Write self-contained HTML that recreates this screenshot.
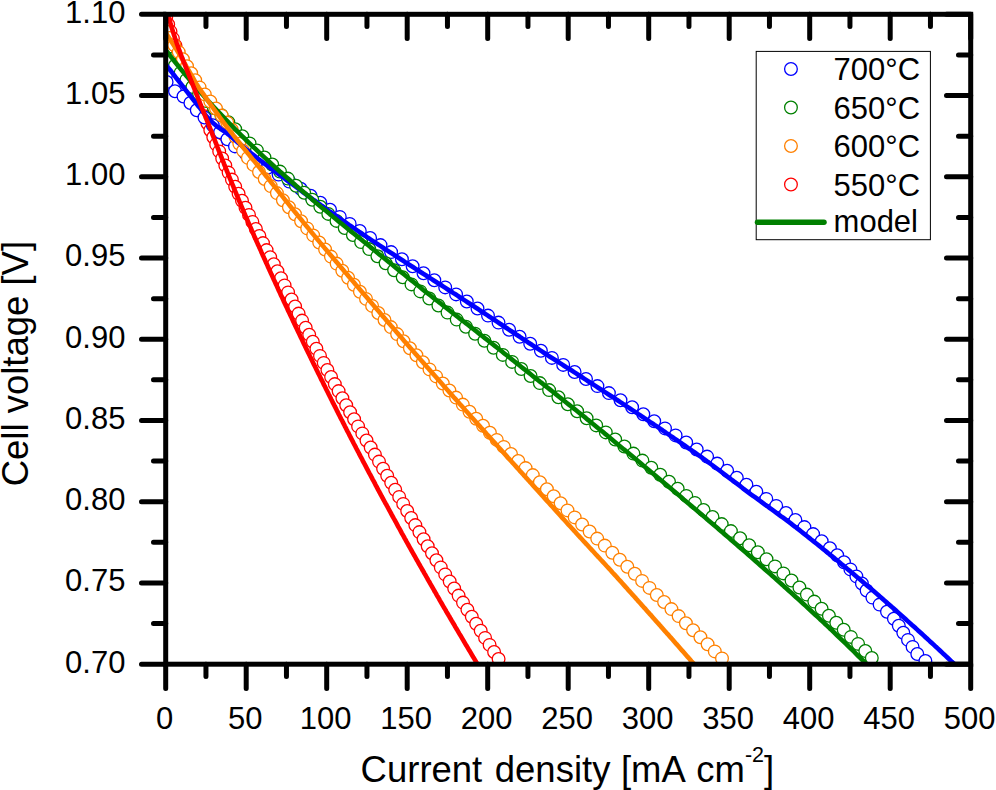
<!DOCTYPE html>
<html lang="en"><head><meta charset="utf-8"><title>Cell voltage vs current density</title>
<style>html,body{margin:0;padding:0;background:#fff}svg{display:block}text{font-family:"Liberation Sans",sans-serif}</style></head>
<body>
<svg width="996" height="790" viewBox="0 0 996 790" font-family="'Liberation Sans', sans-serif">
<rect width="996" height="790" fill="#fff"/>
<defs><clipPath id="pc"><rect x="165.7" y="14.3" width="805.0" height="649.9000000000001"/></clipPath></defs>
<g clip-path="url(#pc)">
<g fill="#fff" stroke="#ff0000" stroke-width="1.3"><circle cx="166.2" cy="17.5" r="6.35"/><circle cx="168.2" cy="24.5" r="6.35"/><circle cx="170.5" cy="31.6" r="6.35"/><circle cx="172.9" cy="38.6" r="6.35"/><circle cx="175.5" cy="45.7" r="6.35"/><circle cx="178.3" cy="52.7" r="6.35"/><circle cx="181.1" cy="59.8" r="6.35"/><circle cx="184.0" cy="66.8" r="6.35"/><circle cx="186.9" cy="73.9" r="6.35"/><circle cx="189.9" cy="80.9" r="6.35"/><circle cx="192.8" cy="88.0" r="6.35"/><circle cx="195.7" cy="95.0" r="6.35"/><circle cx="198.6" cy="102.1" r="6.35"/><circle cx="201.6" cy="109.1" r="6.35"/><circle cx="204.5" cy="116.2" r="6.35"/><circle cx="207.4" cy="123.2" r="6.35"/><circle cx="210.3" cy="130.3" r="6.35"/><circle cx="213.3" cy="137.3" r="6.35"/><circle cx="216.2" cy="144.4" r="6.35"/><circle cx="219.2" cy="151.4" r="6.35"/><circle cx="222.2" cy="158.5" r="6.35"/><circle cx="225.3" cy="165.5" r="6.35"/><circle cx="228.6" cy="172.6" r="6.35"/><circle cx="231.9" cy="179.6" r="6.35"/><circle cx="235.2" cy="186.7" r="6.35"/><circle cx="238.6" cy="193.7" r="6.35"/><circle cx="242.0" cy="200.8" r="6.35"/><circle cx="245.5" cy="207.8" r="6.35"/><circle cx="249.0" cy="214.9" r="6.35"/><circle cx="252.4" cy="221.9" r="6.35"/><circle cx="255.9" cy="229.0" r="6.35"/><circle cx="259.4" cy="236.0" r="6.35"/><circle cx="263.0" cy="243.1" r="6.35"/><circle cx="266.6" cy="250.1" r="6.35"/><circle cx="270.2" cy="257.2" r="6.35"/><circle cx="273.8" cy="264.2" r="6.35"/><circle cx="277.4" cy="271.3" r="6.35"/><circle cx="281.0" cy="278.3" r="6.35"/><circle cx="284.6" cy="285.4" r="6.35"/><circle cx="288.1" cy="292.4" r="6.35"/><circle cx="291.6" cy="299.5" r="6.35"/><circle cx="295.1" cy="306.5" r="6.35"/><circle cx="298.6" cy="313.6" r="6.35"/><circle cx="302.1" cy="320.6" r="6.35"/><circle cx="305.7" cy="327.7" r="6.35"/><circle cx="309.2" cy="334.7" r="6.35"/><circle cx="312.8" cy="341.8" r="6.35"/><circle cx="316.4" cy="348.8" r="6.35"/><circle cx="320.0" cy="355.9" r="6.35"/><circle cx="323.7" cy="362.9" r="6.35"/><circle cx="327.4" cy="370.0" r="6.35"/><circle cx="331.1" cy="377.0" r="6.35"/><circle cx="334.8" cy="384.1" r="6.35"/><circle cx="338.6" cy="391.1" r="6.35"/><circle cx="342.4" cy="398.2" r="6.35"/><circle cx="346.2" cy="405.2" r="6.35"/><circle cx="350.1" cy="412.3" r="6.35"/><circle cx="354.1" cy="419.3" r="6.35"/><circle cx="358.1" cy="426.4" r="6.35"/><circle cx="362.3" cy="433.4" r="6.35"/><circle cx="366.5" cy="440.5" r="6.35"/><circle cx="370.7" cy="447.5" r="6.35"/><circle cx="374.9" cy="454.6" r="6.35"/><circle cx="379.0" cy="461.6" r="6.35"/><circle cx="383.1" cy="468.7" r="6.35"/><circle cx="387.2" cy="475.7" r="6.35"/><circle cx="391.2" cy="482.8" r="6.35"/><circle cx="395.2" cy="489.8" r="6.35"/><circle cx="399.2" cy="496.9" r="6.35"/><circle cx="403.2" cy="503.9" r="6.35"/><circle cx="407.2" cy="511.0" r="6.35"/><circle cx="411.2" cy="518.0" r="6.35"/><circle cx="415.3" cy="525.1" r="6.35"/><circle cx="419.4" cy="532.1" r="6.35"/><circle cx="423.6" cy="539.2" r="6.35"/><circle cx="427.7" cy="546.2" r="6.35"/><circle cx="432.0" cy="553.3" r="6.35"/><circle cx="436.4" cy="560.3" r="6.35"/><circle cx="440.8" cy="567.4" r="6.35"/><circle cx="445.2" cy="574.4" r="6.35"/><circle cx="449.7" cy="581.5" r="6.35"/><circle cx="454.2" cy="588.5" r="6.35"/><circle cx="458.6" cy="595.6" r="6.35"/><circle cx="463.0" cy="602.6" r="6.35"/><circle cx="467.4" cy="609.7" r="6.35"/><circle cx="471.8" cy="616.7" r="6.35"/><circle cx="476.2" cy="623.8" r="6.35"/><circle cx="480.7" cy="630.8" r="6.35"/><circle cx="485.1" cy="637.9" r="6.35"/><circle cx="489.6" cy="644.9" r="6.35"/><circle cx="494.1" cy="652.0" r="6.35"/><circle cx="498.6" cy="659.0" r="6.35"/></g>
<g fill="#fff" stroke="#0000ff" stroke-width="1.3"><circle cx="166.0" cy="75.0" r="6.35"/><circle cx="166.6" cy="82.0" r="6.35"/><circle cx="175.0" cy="91.2" r="6.35"/><circle cx="183.5" cy="96.5" r="6.35"/><circle cx="190.4" cy="103.0" r="6.35"/><circle cx="196.8" cy="110.3" r="6.35"/><circle cx="204.5" cy="117.5" r="6.35"/><circle cx="212.8" cy="125.2" r="6.35"/><circle cx="220.1" cy="132.3" r="6.35"/><circle cx="227.4" cy="139.3" r="6.35"/><circle cx="235.0" cy="146.4" r="6.35"/><circle cx="245.5" cy="153.4" r="6.35"/><circle cx="257.2" cy="160.5" r="6.35"/><circle cx="268.0" cy="167.5" r="6.35"/><circle cx="278.6" cy="174.6" r="6.35"/><circle cx="289.3" cy="181.6" r="6.35"/><circle cx="300.7" cy="188.7" r="6.35"/><circle cx="310.6" cy="195.7" r="6.35"/><circle cx="320.3" cy="202.8" r="6.35"/><circle cx="330.0" cy="209.8" r="6.35"/><circle cx="339.8" cy="216.9" r="6.35"/><circle cx="349.7" cy="223.9" r="6.35"/><circle cx="359.8" cy="231.0" r="6.35"/><circle cx="370.1" cy="238.0" r="6.35"/><circle cx="380.5" cy="245.1" r="6.35"/><circle cx="391.1" cy="252.1" r="6.35"/><circle cx="401.9" cy="259.2" r="6.35"/><circle cx="412.6" cy="266.2" r="6.35"/><circle cx="423.5" cy="273.3" r="6.35"/><circle cx="434.3" cy="280.3" r="6.35"/><circle cx="445.2" cy="287.4" r="6.35"/><circle cx="456.1" cy="294.4" r="6.35"/><circle cx="466.8" cy="301.5" r="6.35"/><circle cx="477.5" cy="308.5" r="6.35"/><circle cx="488.0" cy="315.6" r="6.35"/><circle cx="498.5" cy="322.6" r="6.35"/><circle cx="509.1" cy="329.7" r="6.35"/><circle cx="519.6" cy="336.7" r="6.35"/><circle cx="530.2" cy="343.8" r="6.35"/><circle cx="540.9" cy="350.8" r="6.35"/><circle cx="551.9" cy="357.9" r="6.35"/><circle cx="563.2" cy="364.9" r="6.35"/><circle cx="574.6" cy="372.0" r="6.35"/><circle cx="586.0" cy="379.0" r="6.35"/><circle cx="597.4" cy="386.1" r="6.35"/><circle cx="608.9" cy="393.1" r="6.35"/><circle cx="620.5" cy="400.2" r="6.35"/><circle cx="632.1" cy="407.2" r="6.35"/><circle cx="643.3" cy="414.3" r="6.35"/><circle cx="654.2" cy="421.3" r="6.35"/><circle cx="665.0" cy="428.4" r="6.35"/><circle cx="675.6" cy="435.4" r="6.35"/><circle cx="686.2" cy="442.5" r="6.35"/><circle cx="696.7" cy="449.5" r="6.35"/><circle cx="707.1" cy="456.6" r="6.35"/><circle cx="717.2" cy="463.6" r="6.35"/><circle cx="727.1" cy="470.7" r="6.35"/><circle cx="736.8" cy="477.7" r="6.35"/><circle cx="746.4" cy="484.8" r="6.35"/><circle cx="756.3" cy="491.8" r="6.35"/><circle cx="766.3" cy="498.9" r="6.35"/><circle cx="776.2" cy="505.9" r="6.35"/><circle cx="786.0" cy="513.0" r="6.35"/><circle cx="795.4" cy="520.0" r="6.35"/><circle cx="804.4" cy="527.1" r="6.35"/><circle cx="813.1" cy="534.1" r="6.35"/><circle cx="821.7" cy="541.2" r="6.35"/><circle cx="829.9" cy="548.2" r="6.35"/><circle cx="837.2" cy="555.3" r="6.35"/><circle cx="844.0" cy="562.3" r="6.35"/><circle cx="850.4" cy="569.4" r="6.35"/><circle cx="856.4" cy="576.4" r="6.35"/><circle cx="861.9" cy="583.5" r="6.35"/><circle cx="866.6" cy="590.5" r="6.35"/><circle cx="872.4" cy="597.6" r="6.35"/><circle cx="879.6" cy="604.6" r="6.35"/><circle cx="887.0" cy="611.7" r="6.35"/><circle cx="893.9" cy="618.7" r="6.35"/><circle cx="898.8" cy="625.8" r="6.35"/><circle cx="903.3" cy="632.8" r="6.35"/><circle cx="908.0" cy="639.9" r="6.35"/><circle cx="912.6" cy="646.9" r="6.35"/><circle cx="917.3" cy="654.0" r="6.35"/><circle cx="925.4" cy="661.0" r="6.35"/></g>
<g fill="#fff" stroke="#008000" stroke-width="1.3"><circle cx="169.3" cy="58.8" r="6.35"/><circle cx="174.9" cy="65.8" r="6.35"/><circle cx="180.6" cy="72.9" r="6.35"/><circle cx="186.4" cy="79.9" r="6.35"/><circle cx="192.4" cy="87.0" r="6.35"/><circle cx="199.1" cy="94.0" r="6.35"/><circle cx="206.4" cy="101.1" r="6.35"/><circle cx="214.0" cy="108.1" r="6.35"/><circle cx="221.4" cy="115.2" r="6.35"/><circle cx="228.3" cy="122.2" r="6.35"/><circle cx="235.2" cy="129.3" r="6.35"/><circle cx="242.3" cy="136.3" r="6.35"/><circle cx="249.6" cy="143.4" r="6.35"/><circle cx="256.9" cy="150.4" r="6.35"/><circle cx="264.5" cy="157.5" r="6.35"/><circle cx="272.2" cy="164.5" r="6.35"/><circle cx="280.0" cy="171.6" r="6.35"/><circle cx="287.9" cy="178.6" r="6.35"/><circle cx="296.0" cy="185.7" r="6.35"/><circle cx="304.2" cy="192.7" r="6.35"/><circle cx="312.3" cy="199.8" r="6.35"/><circle cx="320.3" cy="206.8" r="6.35"/><circle cx="328.3" cy="213.9" r="6.35"/><circle cx="336.5" cy="220.9" r="6.35"/><circle cx="344.7" cy="228.0" r="6.35"/><circle cx="352.9" cy="235.0" r="6.35"/><circle cx="361.1" cy="242.1" r="6.35"/><circle cx="369.2" cy="249.1" r="6.35"/><circle cx="377.4" cy="256.2" r="6.35"/><circle cx="385.6" cy="263.2" r="6.35"/><circle cx="394.1" cy="270.3" r="6.35"/><circle cx="402.7" cy="277.3" r="6.35"/><circle cx="411.5" cy="284.4" r="6.35"/><circle cx="420.3" cy="291.4" r="6.35"/><circle cx="429.3" cy="298.5" r="6.35"/><circle cx="438.4" cy="305.5" r="6.35"/><circle cx="447.5" cy="312.6" r="6.35"/><circle cx="456.7" cy="319.6" r="6.35"/><circle cx="465.9" cy="326.7" r="6.35"/><circle cx="475.1" cy="333.7" r="6.35"/><circle cx="484.4" cy="340.8" r="6.35"/><circle cx="493.6" cy="347.8" r="6.35"/><circle cx="502.8" cy="354.9" r="6.35"/><circle cx="512.1" cy="361.9" r="6.35"/><circle cx="521.3" cy="369.0" r="6.35"/><circle cx="530.6" cy="376.0" r="6.35"/><circle cx="539.8" cy="383.1" r="6.35"/><circle cx="549.1" cy="390.1" r="6.35"/><circle cx="558.4" cy="397.2" r="6.35"/><circle cx="567.8" cy="404.2" r="6.35"/><circle cx="577.1" cy="411.3" r="6.35"/><circle cx="586.6" cy="418.3" r="6.35"/><circle cx="596.2" cy="425.4" r="6.35"/><circle cx="605.8" cy="432.4" r="6.35"/><circle cx="615.2" cy="439.5" r="6.35"/><circle cx="624.4" cy="446.5" r="6.35"/><circle cx="633.4" cy="453.6" r="6.35"/><circle cx="642.4" cy="460.6" r="6.35"/><circle cx="651.3" cy="467.7" r="6.35"/><circle cx="660.2" cy="474.7" r="6.35"/><circle cx="669.0" cy="481.8" r="6.35"/><circle cx="677.7" cy="488.8" r="6.35"/><circle cx="686.3" cy="495.9" r="6.35"/><circle cx="694.9" cy="502.9" r="6.35"/><circle cx="703.5" cy="510.0" r="6.35"/><circle cx="712.5" cy="517.0" r="6.35"/><circle cx="721.7" cy="524.1" r="6.35"/><circle cx="730.9" cy="531.1" r="6.35"/><circle cx="740.1" cy="538.2" r="6.35"/><circle cx="749.1" cy="545.2" r="6.35"/><circle cx="757.8" cy="552.3" r="6.35"/><circle cx="766.5" cy="559.3" r="6.35"/><circle cx="775.0" cy="566.4" r="6.35"/><circle cx="783.4" cy="573.4" r="6.35"/><circle cx="791.5" cy="580.5" r="6.35"/><circle cx="799.4" cy="587.5" r="6.35"/><circle cx="806.9" cy="594.6" r="6.35"/><circle cx="814.3" cy="601.6" r="6.35"/><circle cx="821.6" cy="608.7" r="6.35"/><circle cx="828.9" cy="615.7" r="6.35"/><circle cx="836.3" cy="622.8" r="6.35"/><circle cx="843.7" cy="629.8" r="6.35"/><circle cx="850.9" cy="636.9" r="6.35"/><circle cx="858.1" cy="643.9" r="6.35"/><circle cx="865.3" cy="651.0" r="6.35"/><circle cx="871.8" cy="658.0" r="6.35"/></g>
<g fill="#fff" stroke="#ff8000" stroke-width="1.3"><circle cx="165.1" cy="31.0" r="6.35"/><circle cx="169.6" cy="38.0" r="6.35"/><circle cx="174.2" cy="45.1" r="6.35"/><circle cx="178.7" cy="52.1" r="6.35"/><circle cx="182.9" cy="59.2" r="6.35"/><circle cx="187.0" cy="66.2" r="6.35"/><circle cx="191.2" cy="73.3" r="6.35"/><circle cx="195.2" cy="80.3" r="6.35"/><circle cx="199.6" cy="87.4" r="6.35"/><circle cx="204.8" cy="94.4" r="6.35"/><circle cx="210.3" cy="101.5" r="6.35"/><circle cx="216.0" cy="108.5" r="6.35"/><circle cx="221.7" cy="115.6" r="6.35"/><circle cx="227.2" cy="122.6" r="6.35"/><circle cx="231.8" cy="129.7" r="6.35"/><circle cx="235.4" cy="136.7" r="6.35"/><circle cx="239.3" cy="143.8" r="6.35"/><circle cx="243.1" cy="150.8" r="6.35"/><circle cx="247.9" cy="157.9" r="6.35"/><circle cx="253.4" cy="164.9" r="6.35"/><circle cx="259.0" cy="172.0" r="6.35"/><circle cx="264.7" cy="179.0" r="6.35"/><circle cx="270.7" cy="186.1" r="6.35"/><circle cx="276.9" cy="193.1" r="6.35"/><circle cx="282.9" cy="200.2" r="6.35"/><circle cx="288.9" cy="207.2" r="6.35"/><circle cx="295.0" cy="214.3" r="6.35"/><circle cx="301.1" cy="221.3" r="6.35"/><circle cx="307.2" cy="228.4" r="6.35"/><circle cx="313.2" cy="235.4" r="6.35"/><circle cx="319.2" cy="242.5" r="6.35"/><circle cx="325.1" cy="249.5" r="6.35"/><circle cx="330.9" cy="256.6" r="6.35"/><circle cx="336.6" cy="263.6" r="6.35"/><circle cx="342.3" cy="270.7" r="6.35"/><circle cx="348.1" cy="277.7" r="6.35"/><circle cx="353.9" cy="284.8" r="6.35"/><circle cx="359.9" cy="291.8" r="6.35"/><circle cx="366.0" cy="298.9" r="6.35"/><circle cx="372.1" cy="305.9" r="6.35"/><circle cx="378.3" cy="313.0" r="6.35"/><circle cx="384.5" cy="320.0" r="6.35"/><circle cx="390.8" cy="327.1" r="6.35"/><circle cx="397.1" cy="334.1" r="6.35"/><circle cx="403.5" cy="341.2" r="6.35"/><circle cx="409.9" cy="348.2" r="6.35"/><circle cx="416.4" cy="355.3" r="6.35"/><circle cx="422.9" cy="362.3" r="6.35"/><circle cx="429.5" cy="369.4" r="6.35"/><circle cx="436.1" cy="376.4" r="6.35"/><circle cx="442.8" cy="383.5" r="6.35"/><circle cx="449.4" cy="390.5" r="6.35"/><circle cx="456.1" cy="397.6" r="6.35"/><circle cx="462.8" cy="404.6" r="6.35"/><circle cx="469.5" cy="411.7" r="6.35"/><circle cx="476.2" cy="418.7" r="6.35"/><circle cx="483.0" cy="425.8" r="6.35"/><circle cx="489.9" cy="432.8" r="6.35"/><circle cx="496.8" cy="439.9" r="6.35"/><circle cx="503.8" cy="446.9" r="6.35"/><circle cx="511.0" cy="454.0" r="6.35"/><circle cx="518.3" cy="461.0" r="6.35"/><circle cx="525.6" cy="468.1" r="6.35"/><circle cx="532.8" cy="475.1" r="6.35"/><circle cx="539.9" cy="482.2" r="6.35"/><circle cx="546.9" cy="489.2" r="6.35"/><circle cx="553.7" cy="496.3" r="6.35"/><circle cx="560.6" cy="503.3" r="6.35"/><circle cx="567.5" cy="510.4" r="6.35"/><circle cx="574.7" cy="517.4" r="6.35"/><circle cx="582.1" cy="524.5" r="6.35"/><circle cx="589.6" cy="531.5" r="6.35"/><circle cx="597.2" cy="538.6" r="6.35"/><circle cx="604.8" cy="545.6" r="6.35"/><circle cx="612.3" cy="552.7" r="6.35"/><circle cx="619.8" cy="559.7" r="6.35"/><circle cx="627.3" cy="566.8" r="6.35"/><circle cx="634.8" cy="573.8" r="6.35"/><circle cx="642.1" cy="580.9" r="6.35"/><circle cx="649.5" cy="587.9" r="6.35"/><circle cx="656.8" cy="595.0" r="6.35"/><circle cx="664.1" cy="602.0" r="6.35"/><circle cx="671.4" cy="609.1" r="6.35"/><circle cx="678.6" cy="616.1" r="6.35"/><circle cx="685.9" cy="623.2" r="6.35"/><circle cx="693.1" cy="630.2" r="6.35"/><circle cx="700.4" cy="637.3" r="6.35"/><circle cx="707.6" cy="644.3" r="6.35"/><circle cx="714.8" cy="651.4" r="6.35"/><circle cx="722.0" cy="658.4" r="6.35"/></g>
<path d="M160.0,57.3 L162.0,59.8 L164.0,62.4 L166.0,64.9 L168.0,67.5 L170.1,70.0 L172.1,72.6 L174.1,75.2 L176.1,77.8 L178.1,80.3 L180.1,82.9 L182.1,85.5 L184.1,88.0 L186.1,90.6 L188.1,93.2 L190.2,95.7 L192.2,98.3 L194.2,100.9 L196.2,103.4 L198.2,106.0 L200.2,108.4 L202.2,111.0 L204.2,113.5 L206.2,115.9 L208.2,118.2 L210.3,120.3 L212.3,122.3 L214.3,124.1 L216.3,125.8 L218.3,127.3 L220.3,128.7 L222.3,130.0 L224.3,131.3 L226.3,132.8 L228.3,134.4 L230.4,136.0 L232.4,137.7 L234.4,139.5 L236.4,141.2 L238.4,142.9 L240.4,144.5 L242.4,146.2 L244.4,147.8 L246.4,149.5 L248.4,151.1 L250.5,152.7 L252.5,154.3 L254.5,155.9 L256.5,157.5 L258.5,159.1 L260.5,160.6 L262.5,162.1 L264.5,163.6 L266.5,165.1 L268.5,166.6 L270.6,168.1 L272.6,169.6 L274.6,171.1 L276.6,172.6 L278.6,174.1 L280.6,175.6 L282.6,177.0 L284.6,178.5 L286.6,180.1 L288.6,181.6 L290.7,183.0 L292.7,184.5 L294.7,186.0 L296.7,187.5 L298.7,189.0 L300.7,190.5 L302.7,192.0 L304.7,193.4 L306.7,194.9 L308.7,196.4 L310.8,197.8 L312.8,199.3 L314.8,200.7 L316.8,202.2 L318.8,203.6 L320.8,205.1 L322.8,206.5 L324.8,207.9 L326.8,209.4 L328.8,210.8 L330.9,212.2 L332.9,213.6 L334.9,215.0 L336.9,216.4 L338.9,217.8 L340.9,219.2 L342.9,220.6 L344.9,222.0 L346.9,223.4 L348.9,224.8 L351.0,226.2 L353.0,227.6 L355.0,228.9 L357.0,230.3 L359.0,231.7 L361.0,233.0 L363.0,234.4 L365.0,235.7 L367.0,237.1 L369.0,238.4 L371.1,239.8 L373.1,241.1 L375.1,242.4 L377.1,243.8 L379.1,245.1 L381.1,246.4 L383.1,247.7 L385.1,249.1 L387.1,250.4 L389.1,251.7 L391.2,253.0 L393.2,254.3 L395.2,255.6 L397.2,256.9 L399.2,258.2 L401.2,259.5 L403.2,260.8 L405.2,262.1 L407.2,263.4 L409.2,264.7 L411.3,266.0 L413.3,267.3 L415.3,268.6 L417.3,269.9 L419.3,271.2 L421.3,272.5 L423.3,273.8 L425.3,275.0 L427.3,276.3 L429.3,277.6 L431.4,278.9 L433.4,280.2 L435.4,281.5 L437.4,282.8 L439.4,284.0 L441.4,285.3 L443.4,286.6 L445.4,287.9 L447.4,289.2 L449.4,290.5 L451.5,291.8 L453.5,293.1 L455.5,294.3 L457.5,295.6 L459.5,297.0 L461.5,298.3 L463.5,299.6 L465.5,300.9 L467.5,302.2 L469.5,303.5 L471.6,304.8 L473.6,306.1 L475.6,307.5 L477.6,308.8 L479.6,310.1 L481.6,311.5 L483.6,312.8 L485.6,314.1 L487.6,315.4 L489.6,316.8 L491.7,318.1 L493.7,319.5 L495.7,320.8 L497.7,322.1 L499.7,323.5 L501.7,324.8 L503.7,326.1 L505.7,327.5 L507.7,328.8 L509.7,330.2 L511.8,331.5 L513.8,332.8 L515.8,334.2 L517.8,335.5 L519.8,336.8 L521.8,338.2 L523.8,339.5 L525.8,340.8 L527.8,342.2 L529.8,343.5 L531.9,344.8 L533.9,346.2 L535.9,347.5 L537.9,348.8 L539.9,350.1 L541.9,351.4 L543.9,352.7 L545.9,354.0 L547.9,355.4 L549.9,356.7 L552.0,358.0 L554.0,359.2 L556.0,360.5 L558.0,361.8 L560.0,363.1 L562.0,364.4 L564.0,365.7 L566.0,367.0 L568.0,368.2 L570.0,369.5 L572.1,370.8 L574.1,372.1 L576.1,373.4 L578.1,374.7 L580.1,376.0 L582.1,377.3 L584.1,378.6 L586.1,379.9 L588.1,381.2 L590.1,382.5 L592.2,383.8 L594.2,385.1 L596.2,386.4 L598.2,387.7 L600.2,389.0 L602.2,390.3 L604.2,391.6 L606.2,392.9 L608.2,394.2 L610.2,395.5 L612.3,396.8 L614.3,398.1 L616.3,399.5 L618.3,400.8 L620.3,402.1 L622.3,403.4 L624.3,404.8 L626.3,406.1 L628.3,407.4 L630.3,408.7 L632.4,410.1 L634.4,411.4 L636.4,412.7 L638.4,414.1 L640.4,415.4 L642.4,416.8 L644.4,418.1 L646.4,419.5 L648.4,420.8 L650.4,422.2 L652.5,423.5 L654.5,424.9 L656.5,426.2 L658.5,427.6 L660.5,429.0 L662.5,430.3 L664.5,431.7 L666.5,433.1 L668.5,434.4 L670.5,435.8 L672.6,437.2 L674.6,438.6 L676.6,439.9 L678.6,441.3 L680.6,442.7 L682.6,444.1 L684.6,445.5 L686.6,446.9 L688.6,448.3 L690.6,449.7 L692.7,451.1 L694.7,452.5 L696.7,453.9 L698.7,455.3 L700.7,456.7 L702.7,458.2 L704.7,459.6 L706.7,461.1 L708.7,462.5 L710.7,464.0 L712.8,465.5 L714.8,467.0 L716.8,468.5 L718.8,470.0 L720.8,471.5 L722.8,473.0 L724.8,474.5 L726.8,476.1 L728.8,477.6 L730.8,479.1 L732.9,480.6 L734.9,482.2 L736.9,483.7 L738.9,485.2 L740.9,486.7 L742.9,488.3 L744.9,489.8 L746.9,491.3 L748.9,492.8 L750.9,494.3 L753.0,495.8 L755.0,497.2 L757.0,498.7 L759.0,500.2 L761.0,501.6 L763.0,503.1 L765.0,504.6 L767.0,506.0 L769.0,507.5 L771.0,508.9 L773.1,510.4 L775.1,511.8 L777.1,513.3 L779.1,514.8 L781.1,516.3 L783.1,517.7 L785.1,519.2 L787.1,520.7 L789.1,522.2 L791.1,523.7 L793.2,525.3 L795.2,526.8 L797.2,528.4 L799.2,529.9 L801.2,531.5 L803.2,533.1 L805.2,534.7 L807.2,536.3 L809.2,537.9 L811.2,539.5 L813.3,541.1 L815.3,542.7 L817.3,544.3 L819.3,545.9 L821.3,547.5 L823.3,549.2 L825.3,550.8 L827.3,552.4 L829.3,554.1 L831.3,555.7 L833.4,557.3 L835.4,559.0 L837.4,560.6 L839.4,562.3 L841.4,564.0 L843.4,565.6 L845.4,567.3 L847.4,569.0 L849.4,570.6 L851.4,572.3 L853.5,574.0 L855.5,575.7 L857.5,577.4 L859.5,579.1 L861.5,580.8 L863.5,582.5 L865.5,584.2 L867.5,585.9 L869.5,587.6 L871.5,589.3 L873.6,591.1 L875.6,592.8 L877.6,594.5 L879.6,596.3 L881.6,598.0 L883.6,599.8 L885.6,601.5 L887.6,603.3 L889.6,605.0 L891.6,606.8 L893.7,608.6 L895.7,610.3 L897.7,612.1 L899.7,613.9 L901.7,615.7 L903.7,617.5 L905.7,619.3 L907.7,621.1 L909.7,622.9 L911.7,624.7 L913.8,626.5 L915.8,628.3 L917.8,630.2 L919.8,632.0 L921.8,633.8 L923.8,635.6 L925.8,637.5 L927.8,639.3 L929.8,641.2 L931.8,643.0 L933.9,644.9 L935.9,646.8 L937.9,648.6 L939.9,650.5 L941.9,652.4 L943.9,654.3 L945.9,656.1 L947.9,658.0 L949.9,659.9 L951.9,661.8 L954.0,663.7 L956.0,665.6 L958.0,667.5 L960.0,669.5 L962.0,671.4" fill="none" stroke="#0000ff" stroke-width="4.6" stroke-linejoin="round"/>
<path d="M160.0,42.6 L162.4,45.8 L164.8,48.9 L167.2,52.0 L169.6,55.1 L172.0,58.1 L174.3,61.1 L176.7,64.1 L179.1,67.1 L181.5,70.0 L183.9,72.9 L186.3,75.8 L188.7,78.6 L191.1,81.4 L193.5,84.2 L195.9,87.0 L198.3,89.7 L200.7,92.5 L203.0,95.1 L205.4,97.8 L207.8,100.5 L210.2,103.1 L212.6,105.7 L215.0,108.3 L217.4,110.8 L219.8,113.4 L222.2,115.9 L224.6,118.4 L227.0,120.8 L229.3,123.3 L231.7,125.7 L234.1,128.2 L236.5,130.6 L238.9,132.9 L241.3,135.3 L243.7,137.7 L246.1,140.0 L248.5,142.3 L250.9,144.6 L253.3,146.9 L255.7,149.2 L258.0,151.4 L260.4,153.7 L262.8,155.9 L265.2,158.1 L267.6,160.3 L270.0,162.5 L272.4,164.7 L274.8,166.9 L277.2,169.0 L279.6,171.2 L282.0,173.3 L284.3,175.4 L286.7,177.5 L289.1,179.6 L291.5,181.7 L293.9,183.8 L296.3,185.9 L298.7,188.0 L301.1,190.0 L303.5,192.1 L305.9,194.1 L308.3,196.1 L310.7,198.1 L313.0,200.2 L315.4,202.2 L317.8,204.2 L320.2,206.2 L322.6,208.2 L325.0,210.1 L327.4,212.1 L329.8,214.1 L332.2,216.0 L334.6,218.0 L337.0,220.0 L339.3,221.9 L341.7,223.8 L344.1,225.8 L346.5,227.7 L348.9,229.7 L351.3,231.6 L353.7,233.5 L356.1,235.4 L358.5,237.4 L360.9,239.3 L363.3,241.3 L365.7,243.2 L368.0,245.1 L370.4,247.1 L372.8,249.0 L375.2,251.0 L377.6,252.9 L380.0,254.9 L382.4,256.8 L384.8,258.8 L387.2,260.7 L389.6,262.6 L392.0,264.6 L394.3,266.5 L396.7,268.5 L399.1,270.4 L401.5,272.4 L403.9,274.3 L406.3,276.2 L408.7,278.2 L411.1,280.1 L413.5,282.0 L415.9,283.9 L418.3,285.8 L420.7,287.7 L423.0,289.7 L425.4,291.6 L427.8,293.4 L430.2,295.3 L432.6,297.2 L435.0,299.1 L437.4,301.0 L439.8,302.8 L442.2,304.7 L444.6,306.6 L447.0,308.4 L449.3,310.3 L451.7,312.2 L454.1,314.0 L456.5,315.9 L458.9,317.8 L461.3,319.6 L463.7,321.5 L466.1,323.4 L468.5,325.2 L470.9,327.1 L473.3,329.0 L475.7,330.8 L478.0,332.7 L480.4,334.6 L482.8,336.5 L485.2,338.4 L487.6,340.2 L490.0,342.1 L492.4,344.0 L494.8,345.9 L497.2,347.8 L499.6,349.7 L502.0,351.5 L504.3,353.4 L506.7,355.3 L509.1,357.2 L511.5,359.1 L513.9,361.0 L516.3,362.9 L518.7,364.8 L521.1,366.7 L523.5,368.6 L525.9,370.5 L528.3,372.4 L530.7,374.3 L533.0,376.2 L535.4,378.1 L537.8,380.0 L540.2,381.9 L542.6,383.7 L545.0,385.6 L547.4,387.5 L549.8,389.4 L552.2,391.3 L554.6,393.2 L557.0,395.1 L559.3,397.0 L561.7,398.9 L564.1,400.8 L566.5,402.7 L568.9,404.6 L571.3,406.5 L573.7,408.4 L576.1,410.3 L578.5,412.2 L580.9,414.1 L583.3,416.0 L585.7,417.9 L588.0,419.9 L590.4,421.8 L592.8,423.8 L595.2,425.7 L597.6,427.7 L600.0,429.6 L602.4,431.6 L604.8,433.6 L607.2,435.5 L609.6,437.5 L612.0,439.5 L614.3,441.4 L616.7,443.4 L619.1,445.4 L621.5,447.4 L623.9,449.4 L626.3,451.3 L628.7,453.3 L631.1,455.3 L633.5,457.3 L635.9,459.3 L638.3,461.3 L640.7,463.3 L643.0,465.3 L645.4,467.2 L647.8,469.2 L650.2,471.2 L652.6,473.2 L655.0,475.2 L657.4,477.2 L659.8,479.2 L662.2,481.2 L664.6,483.3 L667.0,485.3 L669.3,487.3 L671.7,489.3 L674.1,491.3 L676.5,493.3 L678.9,495.3 L681.3,497.3 L683.7,499.4 L686.1,501.4 L688.5,503.4 L690.9,505.4 L693.3,507.5 L695.7,509.5 L698.0,511.5 L700.4,513.5 L702.8,515.6 L705.2,517.6 L707.6,519.7 L710.0,521.7 L712.4,523.7 L714.8,525.8 L717.2,527.8 L719.6,529.9 L722.0,531.9 L724.3,534.0 L726.7,536.1 L729.1,538.1 L731.5,540.2 L733.9,542.2 L736.3,544.3 L738.7,546.4 L741.1,548.5 L743.5,550.5 L745.9,552.6 L748.3,554.7 L750.7,556.8 L753.0,558.9 L755.4,561.0 L757.8,563.1 L760.2,565.2 L762.6,567.3 L765.0,569.4 L767.4,571.5 L769.8,573.6 L772.2,575.7 L774.6,577.8 L777.0,580.0 L779.3,582.1 L781.7,584.2 L784.1,586.4 L786.5,588.5 L788.9,590.7 L791.3,592.8 L793.7,595.0 L796.1,597.2 L798.5,599.3 L800.9,601.5 L803.3,603.7 L805.7,605.9 L808.0,608.1 L810.4,610.3 L812.8,612.5 L815.2,614.7 L817.6,616.9 L820.0,619.2 L822.4,621.4 L824.8,623.7 L827.2,625.9 L829.6,628.2 L832.0,630.4 L834.3,632.7 L836.7,635.0 L839.1,637.3 L841.5,639.6 L843.9,641.9 L846.3,644.2 L848.7,646.5 L851.1,648.9 L853.5,651.2 L855.9,653.6 L858.3,656.0 L860.7,658.3 L863.0,660.7 L865.4,663.1 L867.8,665.5 L870.2,668.0 L872.6,670.4 L875.0,672.8" fill="none" stroke="#008000" stroke-width="4.6" stroke-linejoin="round"/>
<path d="M160.9,25.0 L162.2,27.2 L163.6,29.3 L165.0,31.5 L166.3,33.7 L167.7,35.8 L169.1,38.0 L170.5,40.1 L171.9,42.3 L173.3,44.5 L174.7,46.6 L176.1,48.8 L177.4,51.0 L178.7,53.1 L180.0,55.3 L181.3,57.5 L182.5,59.6 L183.7,61.8 L185.0,63.9 L186.2,66.1 L187.5,68.3 L188.7,70.4 L190.0,72.6 L191.3,74.8 L192.5,76.9 L193.7,79.1 L194.9,81.3 L196.1,83.4 L197.5,85.6 L198.9,87.8 L200.4,89.9 L201.9,92.1 L203.4,94.2 L204.9,96.4 L206.4,98.6 L208.0,100.7 L209.5,102.9 L211.0,105.1 L212.6,107.2 L214.1,109.4 L215.7,111.6 L217.2,113.7 L218.8,115.9 L220.3,118.0 L221.9,120.2 L223.5,122.4 L225.1,124.5 L226.8,126.7 L228.4,128.9 L230.1,131.0 L231.8,133.2 L233.5,135.4 L235.2,137.5 L236.9,139.7 L238.6,141.8 L240.4,144.0 L242.1,146.2 L243.8,148.3 L245.6,150.5 L247.3,152.7 L249.1,154.8 L250.8,157.0 L252.6,159.2 L254.4,161.3 L256.2,163.5 L257.9,165.7 L259.7,167.8 L261.4,170.0 L263.1,172.1 L264.8,174.3 L266.5,176.5 L268.3,178.6 L270.0,180.8 L271.7,183.0 L273.4,185.1 L275.1,187.3 L276.9,189.5 L278.6,191.6 L280.3,193.8 L282.0,195.9 L283.8,198.1 L285.5,200.3 L287.2,202.4 L289.0,204.6 L290.7,206.8 L292.5,208.9 L294.2,211.1 L296.0,213.3 L297.7,215.4 L299.5,217.6 L301.3,219.7 L303.0,221.9 L304.8,224.1 L306.6,226.2 L308.4,228.4 L310.1,230.6 L311.9,232.7 L313.7,234.9 L315.5,237.1 L317.3,239.2 L319.1,241.4 L320.9,243.6 L322.8,245.7 L324.6,247.9 L326.4,250.0 L328.2,252.2 L330.0,254.4 L331.9,256.5 L333.7,258.7 L335.5,260.9 L337.4,263.0 L339.2,265.2 L341.0,267.4 L342.9,269.5 L344.7,271.7 L346.6,273.8 L348.4,276.0 L350.3,278.2 L352.1,280.3 L354.0,282.5 L355.8,284.7 L357.7,286.8 L359.5,289.0 L361.4,291.2 L363.2,293.3 L365.1,295.5 L366.9,297.6 L368.8,299.8 L370.6,302.0 L372.5,304.1 L374.3,306.3 L376.2,308.5 L378.0,310.6 L379.9,312.8 L381.7,315.0 L383.6,317.1 L385.5,319.3 L387.3,321.5 L389.2,323.6 L391.1,325.8 L393.0,327.9 L394.8,330.1 L396.7,332.3 L398.6,334.4 L400.5,336.6 L402.4,338.8 L404.2,340.9 L406.1,343.1 L408.0,345.3 L409.9,347.4 L411.8,349.6 L413.7,351.7 L415.6,353.9 L417.5,356.1 L419.4,358.2 L421.3,360.4 L423.2,362.6 L425.1,364.7 L427.0,366.9 L428.9,369.1 L430.8,371.2 L432.7,373.4 L434.6,375.5 L436.6,377.7 L438.5,379.9 L440.4,382.0 L442.3,384.2 L444.2,386.4 L446.1,388.5 L448.1,390.7 L450.0,392.9 L451.9,395.0 L453.8,397.2 L455.8,399.4 L457.7,401.5 L459.6,403.7 L461.5,405.8 L463.5,408.0 L465.4,410.2 L467.3,412.3 L469.3,414.5 L471.2,416.7 L473.1,418.8 L475.1,421.0 L477.0,423.2 L479.0,425.3 L480.9,427.5 L482.8,429.6 L484.8,431.8 L486.7,434.0 L488.7,436.1 L490.6,438.3 L492.6,440.5 L494.5,442.6 L496.4,444.8 L498.4,447.0 L500.3,449.1 L502.3,451.3 L504.2,453.4 L506.2,455.6 L508.1,457.8 L510.1,459.9 L512.0,462.1 L514.0,464.3 L515.9,466.4 L517.9,468.6 L519.8,470.8 L521.8,472.9 L523.7,475.1 L525.7,477.3 L527.7,479.4 L529.6,481.6 L531.6,483.7 L533.5,485.9 L535.5,488.1 L537.4,490.2 L539.4,492.4 L541.3,494.6 L543.3,496.7 L545.2,498.9 L547.2,501.1 L549.2,503.2 L551.1,505.4 L553.1,507.5 L555.0,509.7 L557.0,511.9 L558.9,514.0 L560.9,516.2 L562.8,518.4 L564.8,520.5 L566.8,522.7 L568.7,524.9 L570.7,527.0 L572.7,529.2 L574.7,531.3 L576.6,533.5 L578.6,535.7 L580.6,537.8 L582.6,540.0 L584.6,542.2 L586.6,544.3 L588.6,546.5 L590.6,548.7 L592.6,550.8 L594.6,553.0 L596.6,555.2 L598.6,557.3 L600.6,559.5 L602.6,561.6 L604.6,563.8 L606.6,566.0 L608.6,568.1 L610.6,570.3 L612.5,572.5 L614.5,574.6 L616.5,576.8 L618.4,579.0 L620.4,581.1 L622.3,583.3 L624.2,585.4 L626.2,587.6 L628.1,589.8 L630.1,591.9 L632.0,594.1 L634.0,596.3 L635.9,598.4 L637.8,600.6 L639.8,602.8 L641.7,604.9 L643.6,607.1 L645.6,609.2 L647.5,611.4 L649.4,613.6 L651.4,615.7 L653.3,617.9 L655.2,620.1 L657.1,622.2 L659.1,624.4 L661.0,626.6 L662.9,628.7 L664.8,630.9 L666.7,633.1 L668.7,635.2 L670.6,637.4 L672.5,639.5 L674.4,641.7 L676.3,643.9 L678.2,646.0 L680.1,648.2 L682.0,650.4 L683.9,652.5 L685.8,654.7 L687.7,656.9 L689.6,659.0 L691.5,661.2 L693.4,663.3 L695.3,665.5 L697.2,667.7 L699.1,669.8 L700.9,672.0" fill="none" stroke="#ff8000" stroke-width="4.6" stroke-linejoin="round"/>
<path d="M167.1,5.0 L167.2,6.7 L167.4,8.3 L167.6,10.0 L167.9,11.7 L168.2,13.4 L168.5,15.0 L168.8,16.7 L169.2,18.4 L169.6,20.0 L170.1,21.7 L170.5,23.4 L171.0,25.1 L171.5,26.7 L171.9,28.4 L172.5,30.1 L173.0,31.7 L173.5,33.4 L174.0,35.1 L174.6,36.8 L175.1,38.4 L175.7,40.1 L176.3,41.8 L176.8,43.4 L177.4,45.1 L178.0,46.8 L178.6,48.5 L179.3,50.1 L179.9,51.8 L180.5,53.5 L181.1,55.2 L181.8,56.8 L182.4,58.5 L183.1,60.2 L183.7,61.8 L184.4,63.5 L185.0,65.2 L185.7,66.9 L186.3,68.5 L187.0,70.2 L187.6,71.9 L188.3,73.5 L189.0,75.2 L189.6,76.9 L190.3,78.6 L191.0,80.2 L191.6,81.9 L192.3,83.6 L193.0,85.2 L193.6,86.9 L194.3,88.6 L194.9,90.3 L195.6,91.9 L196.2,93.6 L196.9,95.3 L197.6,96.9 L198.2,98.6 L198.9,100.3 L199.5,102.0 L200.2,103.6 L200.9,105.3 L201.5,107.0 L202.2,108.6 L202.9,110.3 L203.5,112.0 L204.2,113.7 L204.9,115.3 L205.5,117.0 L206.2,118.7 L206.9,120.3 L207.5,122.0 L208.2,123.7 L208.9,125.4 L209.5,127.0 L210.2,128.7 L210.9,130.4 L211.5,132.0 L212.2,133.7 L212.8,135.4 L213.5,137.1 L214.1,138.7 L214.8,140.4 L215.5,142.1 L216.1,143.7 L216.8,145.4 L217.4,147.1 L218.1,148.8 L218.7,150.4 L219.4,152.1 L220.1,153.8 L220.7,155.5 L221.4,157.1 L222.0,158.8 L222.7,160.5 L223.4,162.1 L224.0,163.8 L224.7,165.5 L225.4,167.2 L226.1,168.8 L226.7,170.5 L227.4,172.2 L228.1,173.8 L228.8,175.5 L229.4,177.2 L230.1,178.9 L230.8,180.5 L231.5,182.2 L232.2,183.9 L232.9,185.5 L233.6,187.2 L234.2,188.9 L234.9,190.6 L235.6,192.2 L236.3,193.9 L237.0,195.6 L237.7,197.2 L238.4,198.9 L239.1,200.6 L239.8,202.3 L240.5,203.9 L241.2,205.6 L241.9,207.3 L242.6,208.9 L243.3,210.6 L244.0,212.3 L244.7,214.0 L245.4,215.6 L246.1,217.3 L246.9,219.0 L247.6,220.6 L248.3,222.3 L249.0,224.0 L249.7,225.7 L250.5,227.3 L251.2,229.0 L251.9,230.7 L252.7,232.3 L253.4,234.0 L254.1,235.7 L254.9,237.4 L255.6,239.0 L256.3,240.7 L257.1,242.4 L257.8,244.1 L258.6,245.7 L259.3,247.4 L260.1,249.1 L260.8,250.7 L261.5,252.4 L262.3,254.1 L263.0,255.8 L263.8,257.4 L264.5,259.1 L265.3,260.8 L266.0,262.4 L266.8,264.1 L267.6,265.8 L268.3,267.5 L269.1,269.1 L269.8,270.8 L270.6,272.5 L271.3,274.1 L272.1,275.8 L272.9,277.5 L273.6,279.2 L274.4,280.8 L275.2,282.5 L275.9,284.2 L276.7,285.8 L277.5,287.5 L278.2,289.2 L279.0,290.9 L279.8,292.5 L280.5,294.2 L281.3,295.9 L282.1,297.5 L282.9,299.2 L283.6,300.9 L284.4,302.6 L285.2,304.2 L286.0,305.9 L286.8,307.6 L287.5,309.2 L288.3,310.9 L289.1,312.6 L289.9,314.3 L290.7,315.9 L291.5,317.6 L292.3,319.3 L293.0,320.9 L293.8,322.6 L294.6,324.3 L295.4,326.0 L296.2,327.6 L297.0,329.3 L297.8,331.0 L298.6,332.6 L299.4,334.3 L300.2,336.0 L301.0,337.7 L301.8,339.3 L302.6,341.0 L303.4,342.7 L304.2,344.4 L305.0,346.0 L305.8,347.7 L306.6,349.4 L307.4,351.0 L308.2,352.7 L309.1,354.4 L309.9,356.1 L310.7,357.7 L311.5,359.4 L312.3,361.1 L313.1,362.7 L313.9,364.4 L314.8,366.1 L315.6,367.8 L316.4,369.4 L317.2,371.1 L318.0,372.8 L318.9,374.4 L319.7,376.1 L320.5,377.8 L321.3,379.5 L322.2,381.1 L323.0,382.8 L323.8,384.5 L324.7,386.1 L325.5,387.8 L326.3,389.5 L327.2,391.2 L328.0,392.8 L328.8,394.5 L329.7,396.2 L330.5,397.8 L331.3,399.5 L332.2,401.2 L333.0,402.9 L333.9,404.5 L334.7,406.2 L335.6,407.9 L336.4,409.5 L337.2,411.2 L338.1,412.9 L338.9,414.6 L339.8,416.2 L340.6,417.9 L341.5,419.6 L342.4,421.2 L343.2,422.9 L344.1,424.6 L344.9,426.3 L345.8,427.9 L346.6,429.6 L347.5,431.3 L348.4,432.9 L349.2,434.6 L350.1,436.3 L350.9,438.0 L351.8,439.6 L352.7,441.3 L353.5,443.0 L354.4,444.7 L355.3,446.3 L356.1,448.0 L357.0,449.7 L357.9,451.3 L358.8,453.0 L359.6,454.7 L360.5,456.4 L361.4,458.0 L362.3,459.7 L363.1,461.4 L364.0,463.0 L364.9,464.7 L365.8,466.4 L366.7,468.1 L367.5,469.7 L368.4,471.4 L369.3,473.1 L370.2,474.7 L371.1,476.4 L372.0,478.1 L372.9,479.8 L373.8,481.4 L374.7,483.1 L375.5,484.8 L376.4,486.4 L377.3,488.1 L378.2,489.8 L379.1,491.5 L380.0,493.1 L380.9,494.8 L381.8,496.5 L382.7,498.1 L383.6,499.8 L384.5,501.5 L385.4,503.2 L386.4,504.8 L387.3,506.5 L388.2,508.2 L389.1,509.8 L390.0,511.5 L390.9,513.2 L391.8,514.9 L392.7,516.5 L393.6,518.2 L394.6,519.9 L395.5,521.5 L396.4,523.2 L397.3,524.9 L398.2,526.6 L399.1,528.2 L400.1,529.9 L401.0,531.6 L401.9,533.3 L402.8,534.9 L403.8,536.6 L404.7,538.3 L405.6,539.9 L406.5,541.6 L407.5,543.3 L408.4,545.0 L409.3,546.6 L410.3,548.3 L411.2,550.0 L412.1,551.6 L413.1,553.3 L414.0,555.0 L415.0,556.7 L415.9,558.3 L416.8,560.0 L417.8,561.7 L418.7,563.3 L419.7,565.0 L420.6,566.7 L421.6,568.4 L422.5,570.0 L423.5,571.7 L424.4,573.4 L425.4,575.0 L426.3,576.7 L427.3,578.4 L428.2,580.1 L429.2,581.7 L430.1,583.4 L431.1,585.1 L432.0,586.7 L433.0,588.4 L434.0,590.1 L434.9,591.8 L435.9,593.4 L436.8,595.1 L437.8,596.8 L438.8,598.4 L439.7,600.1 L440.7,601.8 L441.7,603.5 L442.6,605.1 L443.6,606.8 L444.6,608.5 L445.6,610.1 L446.5,611.8 L447.5,613.5 L448.5,615.2 L449.5,616.8 L450.4,618.5 L451.4,620.2 L452.4,621.8 L453.4,623.5 L454.4,625.2 L455.3,626.9 L456.3,628.5 L457.3,630.2 L458.3,631.9 L459.3,633.6 L460.3,635.2 L461.3,636.9 L462.3,638.6 L463.2,640.2 L464.2,641.9 L465.2,643.6 L466.2,645.3 L467.2,646.9 L468.2,648.6 L469.2,650.3 L470.2,651.9 L471.2,653.6 L472.2,655.3 L473.2,657.0 L474.2,658.6 L475.2,660.3 L476.2,662.0 L477.2,663.6 L478.3,665.3 L479.3,667.0 L480.3,668.7 L481.3,670.3 L482.3,672.0" fill="none" stroke="#ff0000" stroke-width="4.6" stroke-linejoin="round"/>
</g>
<rect x="165.7" y="14.3" width="805.0" height="649.9000000000001" fill="none" stroke="#000" stroke-width="5.0"/>
<path d="M165.70,664.2 v24.2 M165.70,14.3 v24.2 M205.95,664.2 v12.2 M205.95,14.3 v12.2 M246.20,664.2 v24.2 M246.20,14.3 v24.2 M286.45,664.2 v12.2 M286.45,14.3 v12.2 M326.70,664.2 v24.2 M326.70,14.3 v24.2 M366.95,664.2 v12.2 M366.95,14.3 v12.2 M407.20,664.2 v24.2 M407.20,14.3 v24.2 M447.45,664.2 v12.2 M447.45,14.3 v12.2 M487.70,664.2 v24.2 M487.70,14.3 v24.2 M527.95,664.2 v12.2 M527.95,14.3 v12.2 M568.20,664.2 v24.2 M568.20,14.3 v24.2 M608.45,664.2 v12.2 M608.45,14.3 v12.2 M648.70,664.2 v24.2 M648.70,14.3 v24.2 M688.95,664.2 v12.2 M688.95,14.3 v12.2 M729.20,664.2 v24.2 M729.20,14.3 v24.2 M769.45,664.2 v12.2 M769.45,14.3 v12.2 M809.70,664.2 v24.2 M809.70,14.3 v24.2 M849.95,664.2 v12.2 M849.95,14.3 v12.2 M890.20,664.2 v24.2 M890.20,14.3 v24.2 M930.45,664.2 v12.2 M930.45,14.3 v12.2 M970.70,664.2 v24.2 M970.70,14.3 v24.2 M165.7,14.30 h-24.2 M970.7,14.30 h-24.2 M165.7,54.92 h-12.2 M970.7,54.92 h-12.2 M165.7,95.54 h-24.2 M970.7,95.54 h-24.2 M165.7,136.16 h-12.2 M970.7,136.16 h-12.2 M165.7,176.78 h-24.2 M970.7,176.78 h-24.2 M165.7,217.39 h-12.2 M970.7,217.39 h-12.2 M165.7,258.01 h-24.2 M970.7,258.01 h-24.2 M165.7,298.63 h-12.2 M970.7,298.63 h-12.2 M165.7,339.25 h-24.2 M970.7,339.25 h-24.2 M165.7,379.87 h-12.2 M970.7,379.87 h-12.2 M165.7,420.49 h-24.2 M970.7,420.49 h-24.2 M165.7,461.11 h-12.2 M970.7,461.11 h-12.2 M165.7,501.73 h-24.2 M970.7,501.73 h-24.2 M165.7,542.34 h-12.2 M970.7,542.34 h-12.2 M165.7,582.96 h-24.2 M970.7,582.96 h-24.2 M165.7,623.58 h-12.2 M970.7,623.58 h-12.2 M165.7,664.20 h-24.2 M970.7,664.20 h-24.2" fill="none" stroke="#000" stroke-width="5.0" stroke-linecap="round"/>
<g fill="#000"><text transform="translate(164.7,728.9) scale(1.0,1.035)" font-size="31.0px" text-anchor="middle">0</text><text transform="translate(245.2,728.9) scale(1.0,1.035)" font-size="31.0px" text-anchor="middle">50</text><text transform="translate(325.7,728.9) scale(1.0,1.035)" font-size="31.0px" text-anchor="middle">100</text><text transform="translate(406.2,728.9) scale(1.0,1.035)" font-size="31.0px" text-anchor="middle">150</text><text transform="translate(486.7,728.9) scale(1.0,1.035)" font-size="31.0px" text-anchor="middle">200</text><text transform="translate(567.2,728.9) scale(1.0,1.035)" font-size="31.0px" text-anchor="middle">250</text><text transform="translate(647.7,728.9) scale(1.0,1.035)" font-size="31.0px" text-anchor="middle">300</text><text transform="translate(728.2,728.9) scale(1.0,1.035)" font-size="31.0px" text-anchor="middle">350</text><text transform="translate(808.7,728.9) scale(1.0,1.035)" font-size="31.0px" text-anchor="middle">400</text><text transform="translate(889.2,728.9) scale(1.0,1.035)" font-size="31.0px" text-anchor="middle">450</text><text transform="translate(969.7,728.9) scale(1.0,1.035)" font-size="31.0px" text-anchor="middle">500</text><text transform="translate(125.4,22.7) scale(1.0,1.035)" font-size="31.0px" text-anchor="end">1.10</text><text transform="translate(125.4,103.9) scale(1.0,1.035)" font-size="31.0px" text-anchor="end">1.05</text><text transform="translate(125.4,185.2) scale(1.0,1.035)" font-size="31.0px" text-anchor="end">1.00</text><text transform="translate(125.4,266.4) scale(1.0,1.035)" font-size="31.0px" text-anchor="end">0.95</text><text transform="translate(125.4,347.7) scale(1.0,1.035)" font-size="31.0px" text-anchor="end">0.90</text><text transform="translate(125.4,428.9) scale(1.0,1.035)" font-size="31.0px" text-anchor="end">0.85</text><text transform="translate(125.4,510.1) scale(1.0,1.035)" font-size="31.0px" text-anchor="end">0.80</text><text transform="translate(125.4,591.4) scale(1.0,1.035)" font-size="31.0px" text-anchor="end">0.75</text><text transform="translate(125.4,672.6) scale(1.0,1.035)" font-size="31.0px" text-anchor="end">0.70</text></g>
<g fill="#000"><rect x="756.2" y="51.4" width="174.2" height="188.3" fill="#fff" stroke="#000" stroke-width="1"/><circle cx="790.95" cy="68.95" r="6.35" fill="#fff" stroke="#0000ff" stroke-width="1.3"/><text transform="translate(833.6,80.0) scale(1.0,1.035)" font-size="31.0px" text-anchor="start">700°C</text><circle cx="790.95" cy="107.45" r="6.35" fill="#fff" stroke="#008000" stroke-width="1.3"/><text transform="translate(833.6,118.5) scale(1.0,1.035)" font-size="31.0px" text-anchor="start">650°C</text><circle cx="790.95" cy="145.95" r="6.35" fill="#fff" stroke="#ff8000" stroke-width="1.3"/><text transform="translate(833.6,157.0) scale(1.0,1.035)" font-size="31.0px" text-anchor="start">600°C</text><circle cx="790.95" cy="184.45" r="6.35" fill="#fff" stroke="#ff0000" stroke-width="1.3"/><text transform="translate(833.6,195.5) scale(1.0,1.035)" font-size="31.0px" text-anchor="start">550°C</text><path d="M757.5,222.3 H824" stroke="#008000" stroke-width="5.5" stroke-linecap="round" fill="none"/><text transform="translate(833.6,232.2) scale(1.0,1.035)" font-size="31.0px" text-anchor="start">model</text></g>
<g fill="#000"><text transform="translate(360.6,781.6) scale(1.0,1.035)" font-size="36.5px" text-anchor="start" style="word-spacing:2.4px">Current density <tspan dx="-2">[mA cm</tspan><tspan dy="-19.2" font-size="21.5px">-2</tspan><tspan dy="19.2">]</tspan></text><text transform="translate(27.6,486.3) rotate(-90) scale(1.0,1.035)" font-size="36.5px" text-anchor="start">Cell voltage [V]</text></g>
</svg>
</body></html>
